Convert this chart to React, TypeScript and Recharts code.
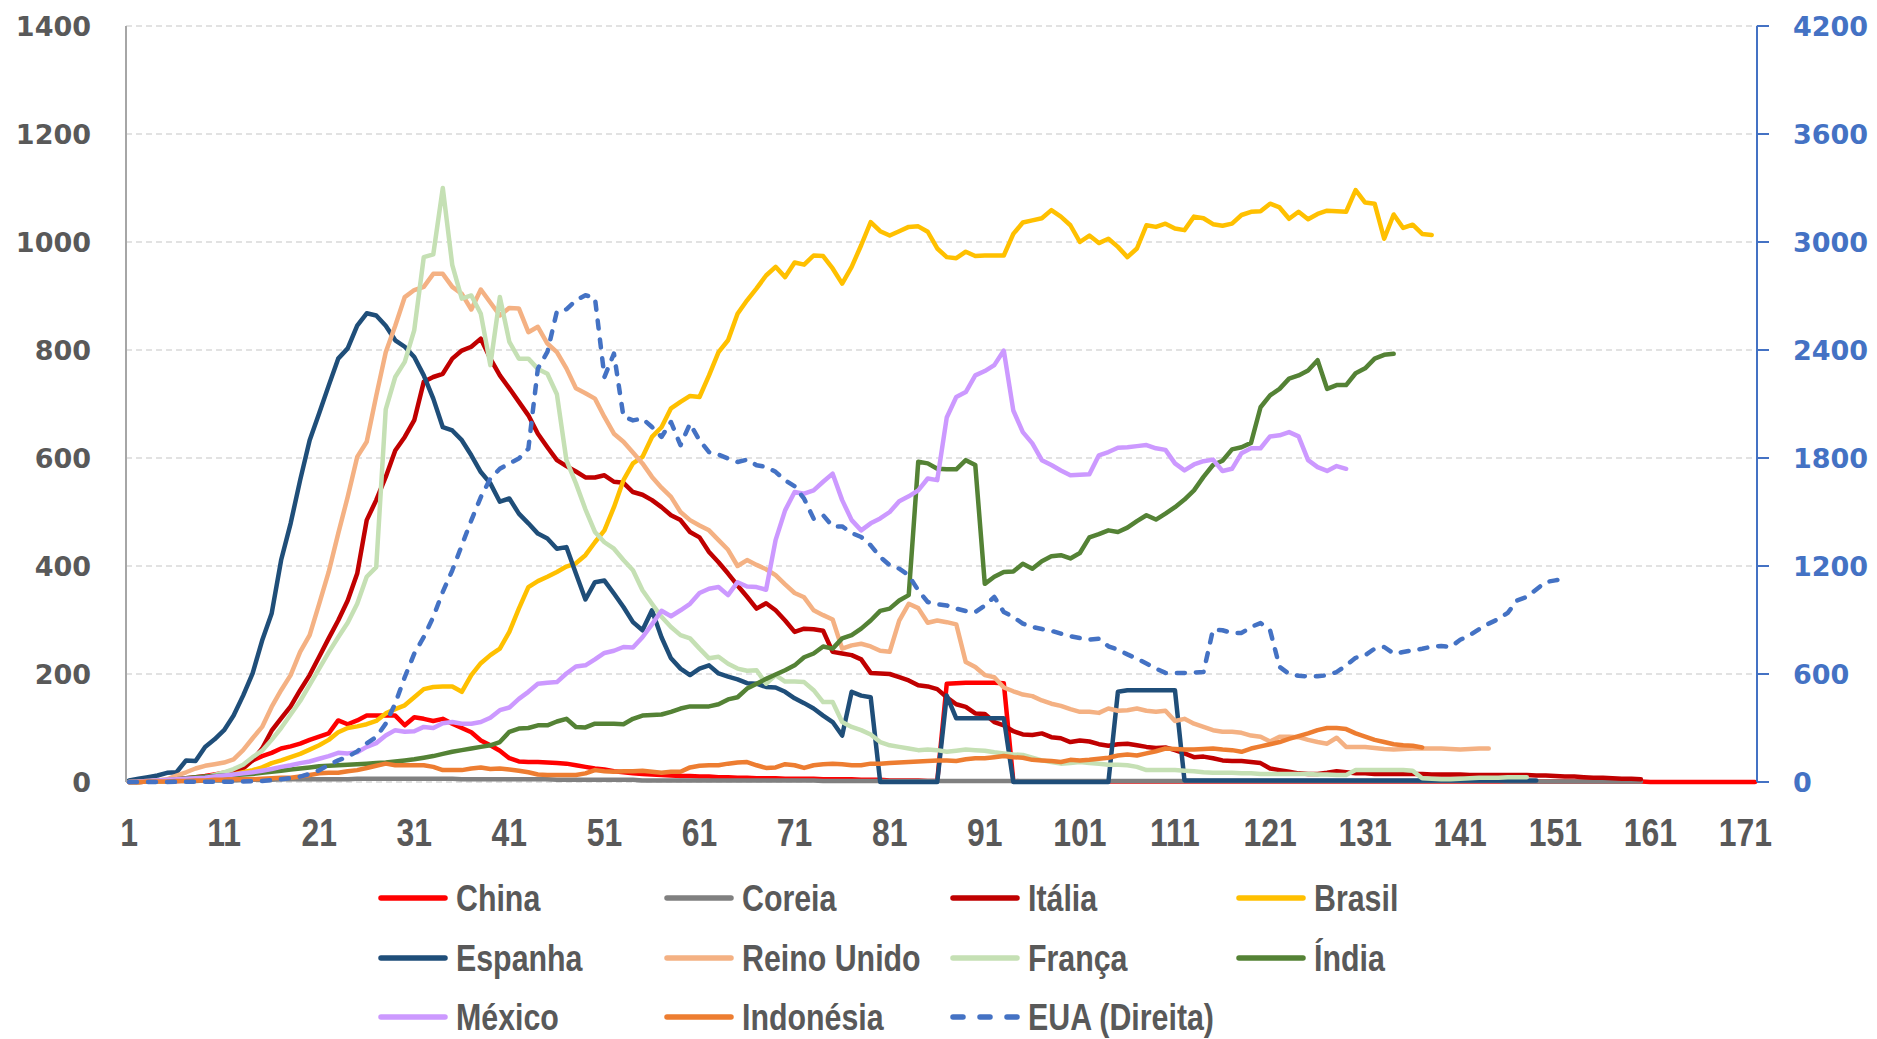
import { LineChart, Line, XAxis, YAxis, CartesianGrid } from "recharts";

// categories: day counter since the 1st death
const days = Array.from({ length: 172 }, (_, i) => i + 1);

const china = [
  0, 0, 1, 2, 3, 5, 7, 9, 11, 14,
  17, 22, 30, 40, 48, 54, 62, 66, 71, 78,
  84, 90, 114, 107, 114, 123, 123, 123, 123, 105,
  120, 117, 113, 117, 108, 100, 92, 77, 68, 58,
  44, 38, 37, 37, 36, 35, 34, 31, 28, 25,
  23, 20, 18, 16, 15, 14, 13, 12, 11, 11,
  10, 10, 9, 9, 8, 8, 7, 7, 7, 6,
  6, 6, 6, 5, 5, 5, 5, 4, 4, 4,
  3, 3, 3, 3, 2, 2, 182, 183, 184, 184,
  184, 184, 183, 2, 1, 1, 1, 1, 1, 1,
  1, 1, 1, 1, 1, 1, 1, 1, 1, 1,
  1, 1, 1, 1, 1, 1, 1, 1, 1, 1,
  1, 1, 1, 1, 1, 1, 1, 1, 1, 1,
  1, 1, 1, 1, 1, 1, 1, 1, 1, 1,
  1, 1, 1, 1, 1, 1, 1, 1, 1, 1,
  1, 1, 1, 1, 1, 1, 1, 1, 1, 1,
  0, 0, 0, 0, 0, 0, 0, 0, 0, 0,
  0, 0,
];

const coreia = [
  0, 0, 1, 1, 1, 2, 2, 2, 3, 3,
  3, 3, 4, 4, 4, 4, 5, 5, 5, 5,
  5, 5, 5, 5, 6, 6, 6, 6, 6, 6,
  6, 6, 6, 6, 6, 5, 5, 5, 5, 5,
  5, 5, 5, 5, 5, 4, 4, 4, 4, 4,
  4, 4, 4, 4, 3, 3, 3, 3, 3, 3,
  3, 3, 3, 3, 3, 3, 3, 3, 3, 3,
  3, 3, 3, 2, 2, 2, 2, 2, 2, 2,
  2, 2, 2, 2, 2, 2, 2, 2, 2, 2,
  2, 2, 2, 2, 2, 2, 2, 2, 2, 2,
  2, 2, 2, 2, 2, 2, 2, 2, 2, 2,
  2, 2, 2, 2, 2, 2, 2, 2, 2, 2,
  2, 2, 2, 2, 2, 2, 2, 2, 2, 2,
  2, 2, 2, 2, 2, 2, 2, 2, 2, 2,
  2, 2, 2, 2, 2, 1, 1, 1, 1, 1,
  1, 1, 1, 1, 1, 1, 1, 1, 1, 1,
];

const italia = [
  0, 0, 1, 1, 2, 2, 3, 4, 5, 7,
  10, 15, 25, 40, 62, 95, 118, 140, 170, 198,
  232, 266, 299, 336, 386, 485, 522, 565, 614, 639,
  670, 741, 750, 756, 784, 799, 806, 821, 784, 753,
  729, 704, 679, 645, 620, 596, 585, 575, 564, 564,
  568, 556, 554, 537, 532, 522, 509, 494, 485, 463,
  453, 426, 407, 386, 364, 343, 321, 331, 318, 299,
  278, 284, 283, 280, 241, 238, 235, 227, 202, 201,
  200, 194, 188, 179, 177, 172, 157, 144, 139, 127,
  126, 111, 105, 94, 88, 87, 90, 83, 81, 74,
  77, 75, 70, 67, 70, 71, 68, 65, 63, 64,
  59, 53, 46, 47, 44, 40, 39, 39, 37, 35,
  25, 22, 19, 16, 15, 15, 17, 20, 18, 16,
  16, 15, 15, 15, 15, 15, 15, 14, 14, 14,
  14, 13, 13, 13, 13, 13, 13, 13, 12, 12,
  11, 10, 10, 9, 8, 8, 7, 6, 6, 5,
];

const brasil = [
  0, 0, 1, 1, 2, 3, 4, 5, 7, 9,
  11, 14, 18, 22, 27, 35, 40, 46, 52, 60,
  68, 78, 92, 100, 103, 107, 113, 127, 135, 142,
  157, 172, 176, 177, 177, 167, 198, 220, 235, 247,
  278, 321, 361, 372, 380, 389, 399, 405, 420, 444,
  466, 509, 559, 590, 602, 639, 657, 692, 704, 715,
  713, 753, 796, 818, 867, 892, 914, 938, 954, 935,
  962, 958, 975, 974, 951, 923, 954, 994, 1037, 1020,
  1012, 1020, 1028, 1029, 1019, 988, 972, 970, 982, 974,
  975, 975, 975, 1015, 1036, 1040, 1044, 1059, 1047, 1031,
  1000, 1012, 998, 1006, 991, 972, 988, 1031, 1028, 1034,
  1025, 1022, 1047, 1044, 1033, 1030, 1034, 1050, 1056, 1057,
  1071, 1064, 1043, 1056, 1042, 1052, 1058, 1057, 1056, 1096,
  1073, 1071, 1006, 1051, 1026, 1032, 1015, 1013,
];

const espanha = [
  3, 6, 9, 12, 17, 18, 40, 39, 65, 79,
  96, 123, 160, 201, 262, 312, 411, 479, 559, 633,
  683, 734, 784, 803, 845, 868, 864, 845, 818, 806,
  787, 753, 710, 657, 651, 633, 605, 574, 553, 519,
  525, 497, 479, 460, 451, 432, 435, 386, 338, 370,
  373, 349, 324, 296, 281, 318, 268, 229, 210, 198,
  210, 216, 201, 195, 190, 183, 182, 176, 175, 167,
  155, 146, 136, 123, 111, 86, 167, 160, 157, 0,
  0, 0, 0, 0, 0, 0, 160, 118, 118, 118,
  118, 118, 118, 0, 0, 0, 0, 0, 0, 0,
  0, 0, 0, 0, 167, 170, 170, 170, 170, 170,
  170, 3, 3, 3, 3, 3, 3, 3, 3, 3,
  3, 3, 3, 3, 3, 3, 3, 3, 3, 3,
  3, 3, 3, 3, 3, 3, 3, 3, 3, 3,
  3, 3, 3, 3, 3, 3, 3, 3, 3,
];

const reinoUnido = [
  0, 1, 2, 3, 5, 12, 18, 25, 30, 33,
  36, 42, 59, 81, 102, 139, 170, 198, 241, 272,
  330, 389, 460, 528, 602, 630, 715, 796, 845, 898,
  911, 917, 941, 941, 917, 904, 875, 912, 888, 864,
  878, 877, 833, 843, 812, 796, 766, 729, 720, 710,
  676, 645, 630, 610, 590, 565, 545, 528, 500, 485,
  475, 466, 448, 430, 400, 411, 402, 394, 383, 366,
  350, 342, 318, 309, 301, 247, 253, 256, 251, 243,
  241, 299, 330, 322, 295, 299, 296, 292, 222, 213,
  198, 194, 175, 168, 162, 159, 151, 145, 141, 135,
  130, 130, 128, 136, 132, 133, 136, 132, 130, 132,
  113, 117, 108, 102, 96, 93, 93, 91, 86, 84,
  75, 84, 84, 83, 78, 74, 71, 82, 65, 65,
  65, 63, 61, 60, 61, 62, 62, 62, 62, 61,
  60, 61, 62, 62,
];

const franca = [
  0, 0, 1, 1, 2, 3, 4, 6, 9, 13,
  18, 24, 32, 46, 58, 78, 100, 125, 150, 180,
  210, 240, 268, 295, 330, 380, 398, 690, 750, 778,
  837, 972, 977, 1100, 957, 895, 901, 867, 772, 898,
  815, 784, 784, 765, 756, 718, 596, 553, 505, 463,
  444, 432, 411, 392, 355, 330, 306, 287, 272, 266,
  247, 229, 232, 219, 210, 206, 207, 182, 198, 186,
  186, 185, 170, 148, 148, 111, 102, 96, 88, 74,
  68, 65, 62, 59, 60, 59, 56, 58, 60, 59,
  58, 55, 53, 51, 50, 45, 40, 37, 34, 35,
  37, 35, 34, 32, 32, 31, 28, 22, 22, 22,
  22, 21, 20, 18, 17, 17, 17, 16, 16, 15,
  15, 15, 15, 15, 15, 14, 14, 13, 13, 22,
  22, 22, 22, 22, 22, 21, 7, 6, 5, 5,
  6, 7, 8, 8, 8, 9, 9, 9,
];

const india = [
  0, 1, 1, 2, 3, 5, 7, 9, 10, 11,
  12, 13, 14, 15, 17, 19, 21, 23, 25, 27,
  29, 30, 31, 32, 33, 34, 35, 36, 38, 40,
  42, 45, 48, 52, 56, 59, 62, 65, 68, 74,
  93, 99, 100, 105, 105, 112, 117, 102, 101, 108,
  108, 108, 107, 117, 123, 124, 125, 130, 136, 140,
  140, 140, 144, 153, 157, 173, 182, 191, 199, 207,
  216, 231, 238, 251, 247, 266, 272, 284, 299, 317,
  321, 336, 346, 593, 590, 580, 579, 579, 596, 587,
  367, 380, 389, 390, 404, 395, 409, 418, 420, 414,
  424, 453, 459, 466, 463, 471, 483, 494, 486, 497,
  509, 523, 540, 565, 587, 595, 616, 620, 628, 694,
  716, 728, 747, 753, 762, 781, 728, 735, 735, 757,
  766, 784, 791, 793,
];

const mexico = [
  0, 1, 2, 3, 4, 5, 6, 7, 8, 10,
  12, 14, 16, 18, 21, 24, 28, 31, 35, 38,
  43, 48, 54, 53, 55, 65, 72, 86, 96, 93,
  94, 102, 100, 109, 111, 108, 108, 111, 119, 133,
  138, 154, 167, 182, 184, 185, 201, 214, 216, 227,
  239, 243, 250, 249, 268, 292, 317, 307, 318, 330,
  350, 358, 361, 346, 370, 362, 361, 356, 448, 503,
  537, 534, 540, 556, 571, 522, 485, 466, 479, 488,
  500, 520, 529, 540, 562, 559, 675, 713, 722, 753,
  761, 772, 799, 688, 648, 627, 596, 587, 577, 568,
  569, 570, 605, 611, 619, 620, 622, 624, 618, 615,
  590, 577, 588, 594, 597, 576, 580, 609, 618, 618,
  640, 642, 648, 640, 596, 583, 576, 585, 580,
];

const indonesia = [
  0, 0, 1, 1, 1, 2, 2, 3, 3, 4,
  4, 5, 5, 5, 6, 7, 8, 8, 10, 13,
  16, 17, 17, 20, 22, 26, 30, 34, 31, 31,
  31, 31, 28, 22, 22, 22, 25, 27, 24, 25,
  23, 21, 18, 14, 13, 13, 13, 13, 16, 22,
  20, 19, 20, 20, 21, 19, 17, 19, 19, 27,
  30, 31, 31, 34, 36, 37, 31, 26, 27, 33,
  31, 26, 31, 33, 34, 33, 31, 31, 34, 34,
  35, 36, 37, 38, 39, 40, 40, 39, 42, 44,
  44, 46, 48, 46, 45, 41, 40, 39, 37, 41,
  40, 41, 43, 45, 49, 51, 49, 53, 57, 62,
  61, 60, 60, 61, 62, 60, 59, 56, 62, 66,
  70, 74, 80, 85, 90, 96, 100, 100, 98, 90,
  84, 78, 74, 70, 68, 67, 64,
];

// EUA is read on the right axis
const eua = [
  0, 0, 0, 0, 0, 1, 1, 1, 1, 2,
  2, 2, 3, 4, 6, 10, 15, 22, 30, 45,
  65, 95, 120, 140, 170, 215, 250, 324, 436, 583,
  713, 806, 917, 1056, 1176, 1315, 1454, 1583, 1686, 1740,
  1770, 1797, 1852, 2297, 2389, 2615, 2626, 2676, 2704, 2690,
  2250, 2380, 2030, 2009, 2019, 1972, 1917, 2000, 1871, 1991,
  1898, 1833, 1819, 1797, 1778, 1791, 1760, 1750, 1723, 1676,
  1643, 1574, 1463, 1482, 1420, 1420, 1383, 1361, 1315, 1250,
  1204, 1185, 1148, 1065, 1000, 987, 981, 963, 950, 944,
  980, 1028, 944, 917, 880, 861, 850, 840, 824, 810,
  800, 791, 796, 754, 735, 709, 685, 658, 630, 606,
  606, 606, 608, 611, 846, 843, 828, 828, 861, 883,
  843, 640, 600, 590, 587, 587, 593, 611, 648, 690,
  704, 741, 750, 713, 722, 732, 740, 752, 756, 750,
  790, 815, 850, 880, 905, 940, 1009, 1028, 1070, 1111,
  1120, 1130,
];

const leftTicks = [0, 200, 400, 600, 800, 1000, 1200, 1400];
const rightTicks = [0, 600, 1200, 1800, 2400, 3000, 3600, 4200];

const SERIES = [
  { key: "china", name: "China", color: "#FF0000", values: china },
  { key: "coreia", name: "Coreia", color: "#808080", values: coreia },
  { key: "italia", name: "Itália", color: "#C00000", values: italia },
  { key: "brasil", name: "Brasil", color: "#FFC000", values: brasil },
  { key: "espanha", name: "Espanha", color: "#1F4E79", values: espanha },
  { key: "reinoUnido", name: "Reino Unido", color: "#F4B183", values: reinoUnido },
  { key: "franca", name: "França", color: "#C5E0B4", values: franca },
  { key: "india", name: "Índia", color: "#548235", values: india },
  { key: "mexico", name: "México", color: "#CC99FF", values: mexico },
  { key: "indonesia", name: "Indonésia", color: "#ED7D31", values: indonesia },
  { key: "eua", name: "EUA (Direita)", color: "#4472C4", values: eua, right: true },
];

const data = days.map((day, i) => {
  const row: Record<string, number> = { day };
  SERIES.forEach((s) => {
    if (i < s.values.length) row[s.key] = s.values[i];
  });
  return row;
});

const GRAY = "#595959";
const NARROW = 0.84;

function DayTick({ x, y, payload }: any) {
  return (
    <g transform={`translate(${x},${y})`}>
      <text
        transform={`scale(${NARROW},1)`}
        x={0}
        y={64}
        textAnchor="middle"
        fill={GRAY}
        fontSize={38}
        fontWeight="bold"
        fontFamily="'Liberation Sans', Arial, sans-serif"
      >
        {payload.value}
      </text>
    </g>
  );
}

function ChartLegend() {
  const cols = [381, 667, 953, 1239];
  const rows = [898, 958, 1017];
  return (
    <svg
      width={1877}
      height={1039}
      style={{ position: "absolute", left: 0, top: 0, pointerEvents: "none" }}
    >
      {SERIES.map((s, i) => {
        const cx = cols[i % 4];
        const cy = rows[Math.floor(i / 4)];
        return (
          <g key={s.key}>
            <line
              x1={cx}
              y1={cy}
              x2={cx + 64}
              y2={cy}
              stroke={s.color}
              strokeWidth={5.5}
              strokeLinecap="round"
              strokeDasharray={s.right ? "10 17" : undefined}
            />
            <text
              transform={`translate(${cx + 75},${cy + 13}) scale(${NARROW - 0.02},1)`}
              fill={GRAY}
              fontSize={37}
              fontWeight="bold"
              fontFamily="'Liberation Sans', Arial, sans-serif"
            >
              {s.name}
            </text>
          </g>
        );
      })}
    </svg>
  );
}

export default function App() {
  const axisFont = { fontSize: 27, fontWeight: "bold", fontFamily: "'DejaVu Sans', Verdana, sans-serif" };
  return (
    <div style={{ position: "absolute", left: 0, top: 0, width: 1877, height: 1039, background: "#fff" }}>
      <LineChart
        width={1877}
        height={1039}
        data={data}
        margin={{ top: 26, right: 0, bottom: 197, left: 0 }}
      >
        <CartesianGrid
          yAxisId="left"
          vertical={false}
          stroke="#D9D9D9"
          strokeWidth={1.5}
          strokeDasharray="6 4"
        />
        <XAxis
          dataKey="day"
          interval={9}
          height={60}
          axisLine={false}
          tickLine={false}
          tickSize={0}
          tickMargin={0}
          padding={{ left: 3, right: 2 }}
          tick={<DayTick />}
        />
        <YAxis
          yAxisId="left"
          width={126}
          domain={[0, 1400]}
          ticks={leftTicks}
          interval={0}
          axisLine={{ stroke: "#A6A6A6", strokeWidth: 2 }}
          tickLine={false}
          tickSize={0}
          tickMargin={35}
          tick={{ fill: GRAY, ...axisFont }}
        />
        <YAxis
          yAxisId="right"
          orientation="right"
          width={120}
          domain={[0, 4200]}
          ticks={rightTicks}
          interval={0}
          axisLine={{ stroke: "#4472C4", strokeWidth: 2 }}
          tickLine={{ stroke: "#4472C4", strokeWidth: 2 }}
          tickSize={12}
          tickMargin={24}
          tick={{ fill: "#4472C4", ...axisFont }}
        />
        {SERIES.map((s) => (
          <Line
            key={s.key}
            yAxisId={s.right ? "right" : "left"}
            type="linear"
            dataKey={s.key}
            name={s.name}
            stroke={s.color}
            strokeWidth={4.5}
            strokeDasharray={s.right ? "8 11" : undefined}
            strokeLinecap="round"
            strokeLinejoin="round"
            dot={false}
            activeDot={false}
            isAnimationActive={false}
          />
        ))}
      </LineChart>
      <ChartLegend />
    </div>
  );
}
